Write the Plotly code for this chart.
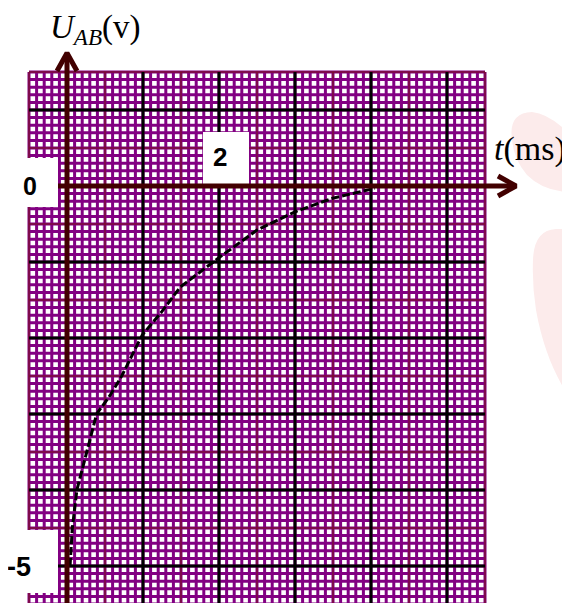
import numpy as np
import plotly.graph_objects as go

# ---- data ----
t_ms = [0.04, 0.07, 0.13, 0.26, 0.39, 0.57, 0.72, 0.99, 1.25, 1.49, 1.99, 2.5, 3.0, 3.5, 3.88, 4.05]
u_v = [-5.0, -4.5, -4.0, -3.5, -3.0, -2.75, -2.5, -1.96, -1.65, -1.33, -0.95, -0.58, -0.34, -0.16, -0.07, -0.03]

y_tick_vals = [0, -5]
y_tick_text = ["0", "-5"]
x_tick_vals = [2]
x_tick_text = ["2"]

# ---- pixel <-> data mapping (layout), in page pixels ----
PW, PH = 570, 603          # page size
OFF = 8                    # default body margin of the html page
W, H = PW - OFF, PH - OFF  # figure size
X0, Y0, S = 67.0, 186.0, 76.0


def tx(px):
    return (px - X0) / S


def ty(py):
    return (Y0 - py) / S


def seg_trace(segs, color, width):
    xs, ys = [], []
    for (x1, y1, x2, y2) in segs:
        xs += [x1, x2, None]
        ys += [y1, y2, None]
    return go.Scatter(x=xs, y=ys, mode="lines", line=dict(color=color, width=width),
                      hoverinfo="skip", showlegend=False)


t_lo, t_hi = -0.5, 5.5
u_lo, u_hi = -5.6, 1.5

minor_t = [k / 10 for k in range(-5, 56)]
minor_u = [k / 10 for k in range(-56, 16)]
half_t = [k / 2 for k in range(-1, 12, 2)]
half_u = [k / 2 for k in range(-11, 4, 2)]
major_t = [1, 2, 3, 4, 5]
major_u = [1, -1, -2, -3, -4, -5]

fig = go.Figure()

# minor purple grid
segs = [(t, u_lo, t, u_hi) for t in minor_t] + [(t_lo, u, t_hi, u) for u in minor_u]
fig.add_trace(seg_trace(segs, "#820082", 3))
# half lines (thin dark red)
segs = [(t, u_lo, t, u_hi) for t in half_t] + [(t_lo, u, t_hi, u) for u in half_u]
fig.add_trace(seg_trace(segs, "#7a1414", 1))
# major black lines
segs = [(t, u_lo, t, u_hi) for t in major_t] + [(t_lo, u, t_hi, u) for u in major_u]
fig.add_trace(seg_trace(segs, "#000000", 3))


# white label boxes
def box(px1, py1, px2, py2):
    return go.Scatter(x=[tx(px1), tx(px2), tx(px2), tx(px1), tx(px1)],
                      y=[ty(py1), ty(py1), ty(py2), ty(py2), ty(py1)],
                      mode="lines", fill="toself", fillcolor="white",
                      line=dict(width=0, color="white"), hoverinfo="skip", showlegend=False)


fig.add_trace(box(0, 158, 58, 207))
fig.add_trace(box(0, 530, 58, 593))
fig.add_trace(box(203, 132, 249, 184))

# curve
fig.add_trace(go.Scatter(x=t_ms, y=u_v, mode="lines",
                         line=dict(color="black", width=3, dash="8px,3px"),
                         hoverinfo="skip", showlegend=False))

# axes with open arrowheads
axc = "#420000"
fig.add_trace(go.Scatter(x=[0, 0], y=[ty(610), ty(53)], mode="lines",
                         line=dict(color=axc, width=5), hoverinfo="skip", showlegend=False))
fig.add_trace(go.Scatter(x=[tx(57), 0, tx(77)], y=[ty(71), ty(53), ty(71)], mode="lines",
                         line=dict(color=axc, width=5), hoverinfo="skip", showlegend=False))
fig.add_trace(go.Scatter(x=[tx(58), tx(516)], y=[0, 0], mode="lines",
                         line=dict(color=axc, width=5), hoverinfo="skip", showlegend=False))
fig.add_trace(go.Scatter(x=[tx(498), tx(516), tx(498)], y=[ty(176), 0, ty(196)], mode="lines",
                         line=dict(color=axc, width=5), hoverinfo="skip", showlegend=False))


# pink decorative blobs
def pp(px, py):
    return f"{(px - OFF) / W:.5f},{1 - (py - OFF) / H:.5f}"


blob1 = ("M " + pp(512, 140) + " Q " + pp(508, 113) + " " + pp(532, 112) +
         " Q " + pp(552, 114) + " " + pp(575, 140) + " L " + pp(575, 192) +
         " Q " + pp(545, 193) + " " + pp(527, 175) + " Q " + pp(514, 160) + " " + pp(512, 140) + " Z")
blob2 = ("M " + pp(533, 260) + " Q " + pp(534, 230) + " " + pp(556, 229) +
         " L " + pp(575, 229) + " L " + pp(575, 400) + " L " + pp(568, 395) +
         " Q " + pp(545, 360) + " " + pp(536, 310) + " Q " + pp(532, 285) + " " + pp(533, 260) + " Z")
shapes = [dict(type="path", xref="paper", yref="paper", path=p, fillcolor="#fcebeb",
               line=dict(width=0), layer="below") for p in (blob1, blob2)]

serif = "Liberation Serif"
sans = "Liberation Sans"
annotations = []
ypos = {0: (30, 186, 25), -5: (19, 567, 27)}
for v, s in zip(y_tick_vals, y_tick_text):
    annotations.append(dict(x=tx(ypos[v][0]), y=ty(ypos[v][1]), text=f"<b>{s}</b>", showarrow=False,
                            font=dict(family=sans, size=ypos[v][2], color="black"),
                            xanchor="center", yanchor="middle", borderpad=0))
for v, s in zip(x_tick_vals, x_tick_text):
    annotations.append(dict(x=v, y=ty(157), text=f"<b>{s}</b>", showarrow=False,
                            font=dict(family=sans, size=26, color="black"),
                            xanchor="center", yanchor="middle", xshift=1, borderpad=0))
annotations.append(dict(x=tx(95), y=ty(29), text="<i>U</i><sub><i>AB</i></sub>(v)", showarrow=False,
                        font=dict(family=serif, size=33, color="black"),
                        xanchor="center", yanchor="middle", borderpad=0))
annotations.append(dict(x=tx(530), y=ty(149), text="<i>t</i>(ms)", showarrow=False,
                        font=dict(family=serif, size=34, color="black"),
                        xanchor="center", yanchor="middle", borderpad=0))

fig.update_layout(
    width=W, height=H, autosize=False,
    margin=dict(l=0, r=0, t=0, b=0),
    paper_bgcolor="white", plot_bgcolor="white",
    xaxis=dict(range=[tx(OFF), tx(PW)], visible=False, fixedrange=True),
    yaxis=dict(range=[ty(PH), ty(OFF)], visible=False, fixedrange=True),
    shapes=shapes, annotations=annotations, showlegend=False,
)

fig.write_html("out.html")
